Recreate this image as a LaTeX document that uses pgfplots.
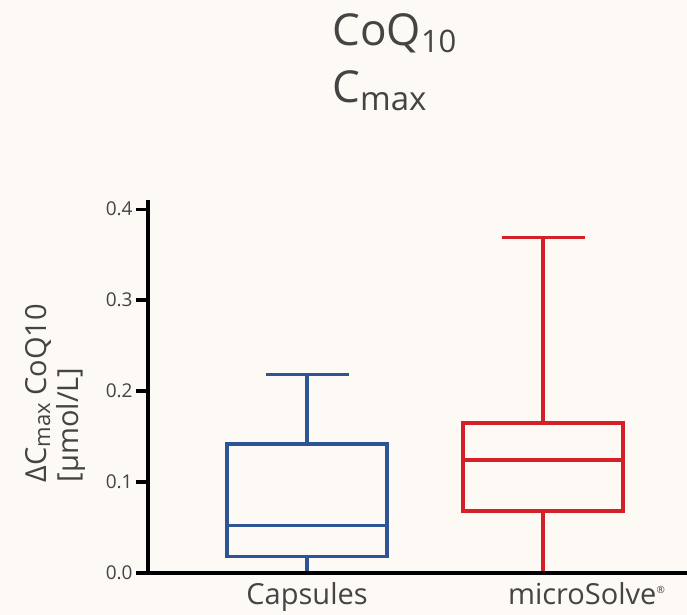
\documentclass[border=0pt]{standalone}
\usepackage{pgfplots}
\pgfplotsset{compat=1.18}
\usepgfplotslibrary{statistics}
\usepackage{fontspec}
\setmainfont{Open Sans}
\definecolor{bg}{HTML}{FDF9F4}
\definecolor{cblue}{HTML}{2D5596}
\definecolor{cred}{HTML}{D42027}
\definecolor{tgray}{HTML}{444444}
\begin{document}
\begin{tikzpicture}
\fill[bg] (0pt,0pt) rectangle (343.5pt,307.5pt);
\useasboundingbox (0pt,0pt) rectangle (343.5pt,307.5pt);
\node[anchor=base west, inner sep=0pt, text=tgray, font=\fontsize{22}{22}\selectfont] at (166pt,284.5pt) {CoQ\raisebox{-3.5pt}{\fontsize{15.5}{15.5}\selectfont 10}};
\node[anchor=base west, inner sep=0pt, text=tgray, font=\fontsize{22}{22}\selectfont] at (166pt,256pt) {C\raisebox{-4pt}{\fontsize{16.5}{16.5}\selectfont max}};
\node[rotate=90, align=left, inner sep=0pt, text=tgray, font=\fontsize{14.5}{16}\selectfont] at (27.5pt,111pt) {ΔC\raisebox{-2pt}{\fontsize{11}{11}\selectfont max} CoQ10\\\mbox{[µmol/L]}};
\begin{axis}[
  at={(74pt,21pt)}, anchor=south west,
  scale only axis, width=269.5pt, height=186.5pt,
  xmin=0.326, xmax=2.61, ymin=0, ymax=0.41,
  axis lines=left,
  axis line style={-, line width=1.6pt, black},
  clip=false,
  axis on top,
  xtick={1,2.186},
  xticklabels={Capsules, microSolve\textsuperscript{\tiny ®}},
  x tick style={draw=none},
  x tick label style={font=\fontsize{14.5}{14.5}\selectfont, text=tgray, inner sep=0pt, yshift=1.5pt},
  ytick={0,0.1,0.2,0.3,0.4},
  y tick label style={font=\fontsize{9.5}{10}\selectfont, text=tgray, inner sep=1.5pt},
  /pgf/number format/fixed,
  /pgf/number format/fixed zerofill,
  /pgf/number format/precision=1,
  /pgf/number format/assume math mode=true,
  y tick style={line width=1.6pt, black},
  tick align=outside,
  major tick length=6pt,
  boxplot/draw direction=y,
]
\addplot[draw=cblue, line width=1.8pt, solid, mark=none,
  boxplot prepared={lower whisker=0, lower quartile=0.018, median=0.052,
    upper quartile=0.142, upper whisker=0.218,
    draw position=1, box extend=0.678, whisker extend=0.352}]
  coordinates {};
\addplot[draw=cred, line width=1.8pt, solid, mark=none,
  boxplot prepared={lower whisker=0, lower quartile=0.068, median=0.124,
    upper quartile=0.165, upper whisker=0.369,
    draw position=2, box extend=0.678, whisker extend=0.352}]
  coordinates {};
\end{axis}
\end{tikzpicture}
\end{document}
